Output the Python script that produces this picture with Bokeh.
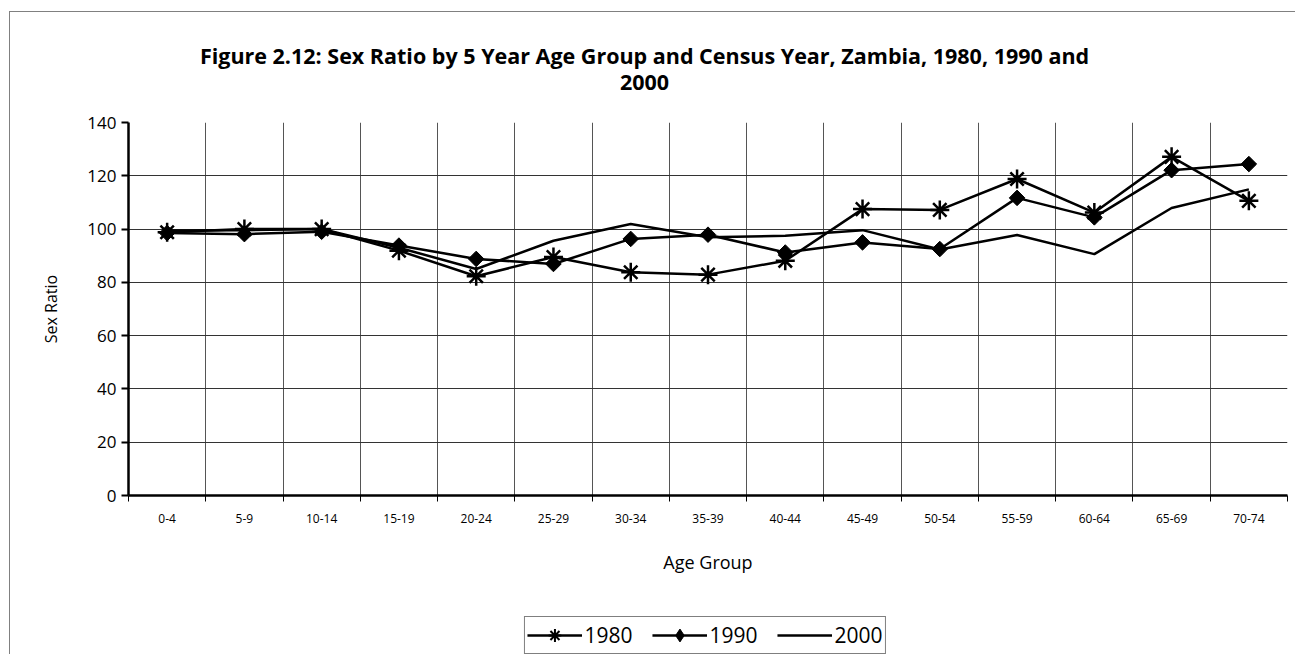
from bokeh.plotting import figure
from bokeh.layouts import column
from bokeh.models import Range1d, FixedTicker, Legend, LegendItem, Label
from bokeh.embed import file_html
from bokeh.resources import INLINE

age_groups = ["0-4", "5-9", "10-14", "15-19", "20-24", "25-29", "30-34", "35-39",
              "40-44", "45-49", "50-54", "55-59", "60-64", "65-69", "70-74"]
ratio_1980 = [98.8, 100.0, 100.0, 91.9, 82.3, 89.5, 83.8, 82.9, 88.1, 107.5, 107.2, 118.8, 106.2, 127.1, 110.6]
ratio_1990 = [98.5, 98.1, 99.0, 93.8, 88.8, 86.9, 96.3, 97.9, 91.2, 95.0, 92.5, 111.7, 104.4, 122.1, 124.4]
ratio_2000 = [99.5, 99.6, 100.0, 93.0, 85.0, 95.6, 101.9, 96.9, 97.5, 99.6, 92.3, 97.8, 90.6, 107.9, 114.9]
series_names = ["1980", "1990", "2000"]
y_ticks = [0, 20, 40, 60, 80, 100, 120, 140]
title_line1 = "Figure 2.12: Sex Ratio by 5 Year Age Group and Census Year, Zambia, 1980, 1990 and"
title_line2 = "2000"

FONT = "Open Sans"

n = len(age_groups)
centers = [i + 0.5 for i in range(n)]
bounds = list(range(n + 1))

p = figure(frame_width=1159, frame_height=373, x_range=Range1d(0, n), y_range=Range1d(0, 140),
           output_backend="svg", toolbar_location=None,
           min_border_left=118, min_border_right=8, min_border_top=110, min_border_bottom=100)
p.outline_line_color = None
p.background_fill_color = "white"
p.border_fill_color = "white"

# axes
p.xaxis.ticker = FixedTicker(ticks=centers, minor_ticks=bounds)
p.xaxis.major_label_overrides = {c: lab for c, lab in zip(centers, age_groups)}
p.xaxis.major_tick_line_color = None
p.xaxis.major_tick_in = 0
p.xaxis.major_tick_out = 6
p.xaxis.minor_tick_in = 0
p.xaxis.minor_tick_out = 6
p.xaxis.minor_tick_line_color = "black"
p.xaxis.minor_tick_line_width = 1
p.xaxis.axis_line_width = 2.5
p.xaxis.axis_line_color = "black"
p.xaxis.major_label_text_font = FONT
p.xaxis.major_label_text_font_size = "12px"
p.xaxis.major_label_text_color = "black"
p.xaxis.major_label_standoff = 12
p.xaxis.axis_label = "Age Group"
p.xaxis.axis_label_text_font = FONT
p.xaxis.axis_label_text_font_size = "18px"
p.xaxis.axis_label_text_font_style = "normal"
p.xaxis.axis_label_text_color = "black"
p.xaxis.axis_label_standoff = 24

p.yaxis.ticker = FixedTicker(ticks=y_ticks)
p.yaxis.minor_tick_line_color = None
p.yaxis.major_tick_in = 0
p.yaxis.major_tick_out = 7
p.yaxis.major_tick_line_width = 2
p.yaxis.axis_line_width = 2.5
p.yaxis.axis_line_color = "black"
p.yaxis.major_label_text_font = FONT
p.yaxis.major_label_text_font_size = "17px"
p.yaxis.major_label_text_color = "black"
p.yaxis.major_label_standoff = 5
p.yaxis.axis_label = "Sex Ratio"
p.yaxis.axis_label_text_font = FONT
p.yaxis.axis_label_text_font_size = "16px"
p.yaxis.axis_label_text_font_style = "normal"
p.yaxis.axis_label_text_color = "black"
p.yaxis.axis_label_standoff = 22

# grids
p.xgrid.ticker = FixedTicker(ticks=bounds)
p.xgrid.grid_line_color = "#555555"
p.xgrid.grid_line_width = 1
p.ygrid.ticker = FixedTicker(ticks=y_ticks)
p.ygrid.grid_line_color = "#333333"
p.ygrid.grid_line_width = 1

# series
line_kw = dict(line_color="black", line_width=2.5)
star_kw = dict(marker="asterisk", size=19, line_color="black", line_width=2.5)
diam_kw = dict(marker="square", size=11, angle=0.785398, line_color="black", fill_color="black")

p.line(centers, ratio_1980, **line_kw)
p.scatter(centers, ratio_1980, **star_kw)
p.line(centers, ratio_1990, **line_kw)
p.scatter(centers, ratio_1990, **diam_kw)
p.line(centers, ratio_2000, **line_kw)

# title: two centred lines over the whole chart area
for txt, yy in ((title_line1, 67), (title_line2, 11)):
    p.add_layout(Label(x=516, y=yy, x_units="screen", y_units="screen", text=txt,
                       text_align="center", text_baseline="middle",
                       text_font=FONT, text_font_size="21.5px", text_font_style="bold",
                       text_color="black"), "above")

# legend panel: a small figure under the chart; its own copies of the series
# lie outside its (empty) view, so only the legend box is seen
lg = figure(frame_width=363, frame_height=38, x_range=Range1d(-2, -1), y_range=Range1d(-2, -1),
            x_axis_location=None, y_axis_location=None, output_backend="svg",
            toolbar_location=None, min_border=0, margin=(21, 0, 0, 513))
lg.grid.visible = False
lg.outline_line_color = None
lg.background_fill_color = "white"
lg.border_fill_color = "white"
k1 = lg.line(centers, ratio_1980, **line_kw)
k1m = lg.scatter(centers, ratio_1980, marker="asterisk", line_color="black", line_width=2)
k2 = lg.line(centers, ratio_1990, **line_kw)
k2m = lg.scatter(centers, ratio_1990, marker="diamond", line_color="black", fill_color="black")
k3 = lg.line(centers, ratio_2000, **line_kw)
legend = Legend(items=[LegendItem(label=series_names[0], renderers=[k1, k1m]),
                       LegendItem(label=series_names[1], renderers=[k2, k2m]),
                       LegendItem(label=series_names[2], renderers=[k3])],
                orientation="horizontal", location="center",
                border_line_color="black", border_line_width=1,
                background_fill_color="white", background_fill_alpha=1,
                label_text_font=FONT, label_text_font_size="21px", label_text_color="black",
                glyph_width=55, glyph_height=32, spacing=19, padding=2,
                label_standoff=3, margin=0)
lg.add_layout(legend, "center")

layout = column(p, lg, spacing=0)
layout.styles = {"margin-left": "9px", "margin-top": "11px",
                 "border-left": "1px solid #808080", "border-top": "1px solid #808080"}

open("out.html", "w").write(file_html(layout, INLINE))
